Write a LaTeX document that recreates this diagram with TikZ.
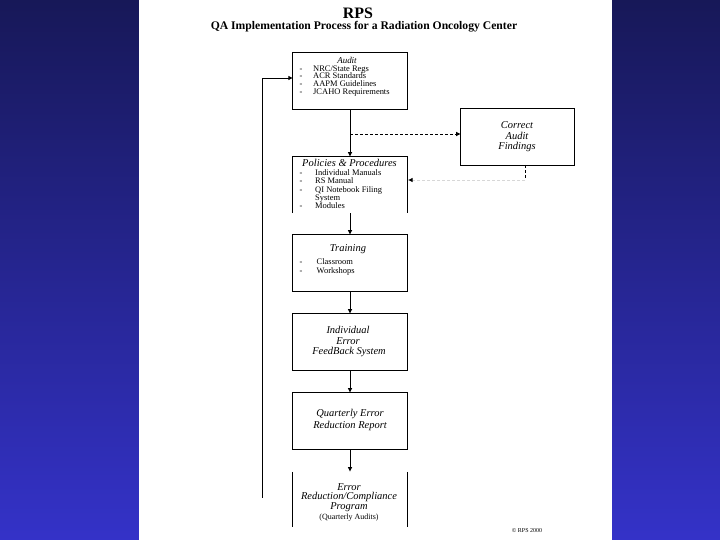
\documentclass[tikz,border=0pt]{standalone}
\usepackage{fontspec}
\setmainfont{Liberation Serif}
\usetikzlibrary{arrows.meta}
\definecolor{bgtop}{RGB}{23,24,88}
\definecolor{bgmid}{RGB}{38,38,150}
\definecolor{bgbot}{RGB}{52,50,200}
\definecolor{faint}{RGB}{215,215,215}
\tikzset{
  box/.style={draw=none, inner sep=0pt, minimum width=114bp, minimum height=56bp},
  edge/.style={line width=0.8bp, black},
  arr/.style={edge, -{Latex[length=4.6bp,width=4.6bp]}},
  itemtxt/.style={font=\fontsize{8.5}{8.5}\selectfont, anchor=base west, inner sep=0pt},
  bullet/.style={font=\fontsize{8.5}{8.5}\selectfont, anchor=base, inner sep=0pt},
  boxtxt/.style={font=\fontsize{10.5}{10.5}\selectfont\itshape, anchor=base, inner sep=0pt},
}
\begin{document}
\begin{tikzpicture}[x=1bp,y=-1bp]
\useasboundingbox (0,0) rectangle (720,540);
% background
\shade[top color=bgtop, middle color=bgmid, bottom color=bgbot] (0,0) rectangle (720,540);
\fill[white] (139,0) rectangle (612,540);

% titles
\node[font=\fontsize{16}{16}\selectfont\bfseries, anchor=base, inner sep=0pt] (t1) at (358,18.5) {RPS};
\node[font=\fontsize{11.7}{11.7}\selectfont\bfseries, anchor=base, inner sep=0pt] (t2) at (364,30) {QA Implementation Process for a Radiation Oncology Center};

% boxes
\node[box] (audit) at (350,81) {};
\draw[edge] (audit.north west) rectangle (audit.south east);
\node[box, minimum width=113bp] (correct) at (517.5,137) {};
\draw[edge] (correct.north west) rectangle (correct.south east);
\node[box] (policies) at (350,185) {};
\draw[edge] (policies.south west) -- (policies.north west) -- (policies.north east) -- (policies.south east);
\node[box] (training) at (350,263) {};
\draw[edge] (training.north west) rectangle (training.south east);
\node[box] (indiv) at (350,342) {};
\draw[edge] (indiv.north west) rectangle (indiv.south east);
\node[box] (quart) at (350,421) {};
\draw[edge] (quart.north west) rectangle (quart.south east);
\node[box, minimum height=55bp] (errred) at (350,499.5) {};
\draw[edge] (errred.north west) -- (errred.south west);
\draw[edge] (errred.north east) -- (errred.south east);

% Audit text
\node[boxtxt, font=\fontsize{9}{9}\selectfont\itshape] (auditT) at (347,63.5) {Audit};
\foreach \y/\t in {71.5/{NRC/State Regs}, 79/{ACR Standards}, 86.6/{AAPM Guidelines}, 94.6/{JCAHO Requirements}}{
  \node[bullet] at (301,\y) {-};
  \node[itemtxt] at (313,\y) {\t};
}

% Correct text
\node[boxtxt] (c1t) at (517,129) {Correct};
\node[boxtxt] (c2t) at (517,139.5) {Audit};
\node[boxtxt] (c3t) at (517,150) {Findings};

% Policies text
\node[boxtxt] (pT) at (349.5,167) {Policies \& Procedures};
\foreach \y/\t in {175.3/{Individual Manuals}, 183.6/{RS Manual}, 192.4/{QI Notebook Filing}, 208.6/{Modules}}{
  \node[bullet] at (301,\y) {-};
  \node[itemtxt] at (315,\y) {\t};
}
\node[itemtxt] (pSys) at (315,200.2) {System};

% Training text
\node[boxtxt] (trT) at (348,251.5) {Training};
\foreach \y/\t in {265/{Classroom}, 273.4/{Workshops}}{
  \node[bullet] at (301,\y) {-};
  \node[itemtxt] at (316.5,\y) {\t};
}

% Individual text
\node[boxtxt] (i1) at (348,333.3) {Individual};
\node[boxtxt] (i2) at (348,344) {Error};
\node[boxtxt] (i3) at (349,354.3) {FeedBack System};

% Quarterly text
\node[boxtxt] (q1) at (350,416.6) {Quarterly Error};
\node[boxtxt] (q2) at (350,428.3) {Reduction Report};

% Error reduction text
\node[boxtxt] (e1) at (349,490) {Error};
\node[boxtxt] (e2) at (349,499.6) {Reduction/Compliance};
\node[boxtxt] (e3) at (349,509) {Program};
\node[font=\fontsize{8}{8}\selectfont, anchor=base, inner sep=0pt] (e4) at (349,519.5) {(Quarterly Audits)};

% copyright
\node[font=\fontsize{6}{6}\selectfont, anchor=base, inner sep=0pt] (copy) at (527,532) {\textcopyright\ RPS 2000};

% connectors
\draw[arr] (audit.south) -- (policies.north);
\coordinate (dsplit) at (350,134);
\draw[arr, dashed, dash pattern=on 3bp off 2bp] (dsplit) -- (correct.west |- dsplit);
\coordinate (cdown) at (525,165);
\coordinate (cturn) at (525,180);
\draw[edge, dashed, dash pattern=on 3bp off 2bp] (cdown) -- (cturn);
\draw[edge, faint, dashed, dash pattern=on 3bp off 2bp, -{Latex[length=4.6bp,width=4.6bp,color=black]}] (cturn) -- (408,180);
\draw[arr] (policies.south) -- (training.north);
\draw[arr] (training.south) -- (indiv.north);
\draw[arr] (indiv.south) -- (quart.north);
\draw[arr] (quart.south) -- (errred.north);
\coordinate (loopend) at (262.5,497.5);
\coordinate (auditin) at (293,78);
\draw[arr] (loopend) |- (auditin);
\end{tikzpicture}
\end{document}
